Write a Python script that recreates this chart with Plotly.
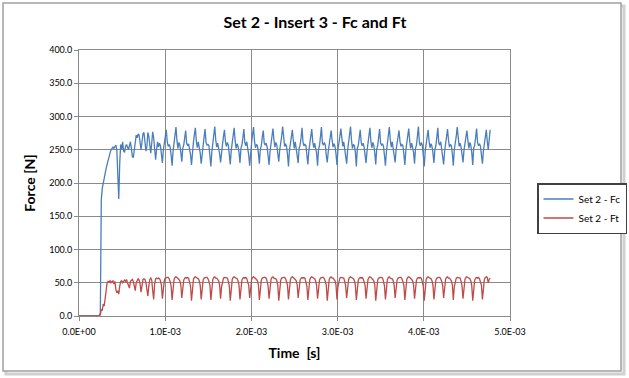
import plotly.graph_objects as go

# sampling interval of the recorded signal [s]
DT = 1.125e-5

# idle phase before contact (values are zero)
fc_idle = [0.0] * 22
ft_idle = [0.0] * 22

# entry phase
fc_entry = [5, 175, 192, 200, 212, 220, 222, 228, 235, 240,
            245, 250, 252, 254, 252, 256, 257, 250, 210, 176,
            230, 258, 250, 262, 248, 246, 255, 258, 254, 250,
            256, 262, 252, 240, 238, 250, 265, 272, 268, 274,
            272, 262, 250, 262, 274, 276, 265, 248, 255, 276,
            270, 258, 245, 260, 277, 268, 252, 235, 250, 262]
ft_entry = [2, 10, 8, 18, 15, 30, 45, 50, 52, 51,
            53, 50, 52, 53, 48, 52, 40, 35, 38, 33,
            45, 52, 53, 50, 52, 54, 52, 55, 50, 44,
            42, 52, 54, 55, 52, 42, 38, 50, 55, 56,
            54, 48, 36, 45, 55, 56, 55, 50, 40, 30,
            45, 55, 57, 54, 38, 25, 48, 56, 57, 56]

# steady-state segmented-chip cycles (one row per cycle)
fc_cycles = [
    [254, 260, 256, 244, 230, 250, 258, 270, 280, 262],
    [255, 258, 254, 242, 226, 248, 260, 272, 284, 264],
    [252, 261, 257, 246, 232, 252, 257, 268, 279, 260],
    [256, 259, 253, 243, 227, 249, 261, 273, 283, 263],
    [253, 262, 255, 245, 229, 251, 256, 269, 281, 261],
    [257, 258, 256, 241, 225, 247, 259, 271, 285, 265],
    [254, 260, 254, 244, 231, 250, 258, 270, 280, 262],
    [255, 261, 257, 243, 228, 249, 260, 272, 283, 264],
    [252, 259, 255, 246, 230, 252, 257, 268, 281, 261],
    [256, 262, 253, 242, 226, 248, 261, 273, 284, 263],
    [253, 258, 256, 245, 229, 251, 256, 269, 279, 260],
    [257, 260, 254, 241, 227, 247, 259, 271, 282, 265],
    [254, 261, 257, 244, 232, 250, 258, 270, 285, 262],
    [255, 259, 255, 243, 225, 249, 260, 272, 280, 264],
    [252, 262, 253, 246, 230, 252, 257, 268, 283, 261],
    [256, 258, 256, 242, 228, 248, 261, 273, 281, 263],
    [253, 260, 254, 245, 226, 251, 256, 269, 284, 260],
    [257, 261, 257, 241, 231, 247, 259, 271, 279, 265],
    [254, 259, 255, 244, 227, 250, 258, 270, 282, 262],
    [255, 262, 253, 243, 229, 249, 260, 272, 285, 264],
    [252, 258, 256, 246, 225, 252, 257, 268, 280, 261],
    [256, 260, 254, 242, 230, 248, 261, 273, 283, 263],
    [253, 261, 257, 245, 228, 251, 256, 269, 281, 260],
    [257, 259, 255, 241, 226, 247, 259, 271, 284, 265],
    [254, 262, 253, 244, 231, 250, 258, 270, 279, 262],
    [255, 258, 256, 243, 227, 249, 260, 272, 282, 264],
    [252, 260, 254, 246, 229, 252, 257, 268, 285, 261],
    [256, 261, 257, 242, 225, 248, 261, 273, 280, 263],
    [253, 259, 255, 245, 230, 251, 256, 269, 283, 260],
    [257, 262, 253, 241, 228, 247, 259, 271, 281, 265],
    [254, 258, 256, 244, 226, 250, 258, 270, 284, 262],
    [255, 260, 254, 243, 231, 249, 260, 272, 279, 264],
    [252, 261, 257, 246, 227, 252, 257, 268, 282, 261],
    [256, 259, 255, 242, 229, 248, 261, 273, 280, 263],
]
ft_cycles = [
    [57, 56, 53, 46, 26, 44, 54, 57, 58, 58],
    [58, 56, 52, 45, 24, 43, 55, 58, 59, 58],
    [57, 55, 53, 47, 27, 45, 54, 57, 58, 57],
    [58, 57, 52, 45, 23, 44, 55, 58, 59, 58],
    [57, 56, 53, 46, 25, 43, 54, 57, 58, 58],
    [58, 56, 52, 46, 24, 45, 55, 58, 59, 57],
    [57, 55, 53, 47, 26, 44, 54, 57, 58, 58],
    [58, 57, 52, 45, 23, 43, 55, 58, 59, 58],
    [57, 56, 53, 46, 25, 45, 54, 57, 58, 57],
    [58, 56, 52, 46, 27, 44, 55, 58, 59, 58],
    [57, 55, 53, 47, 24, 43, 54, 57, 58, 58],
    [58, 57, 52, 45, 26, 45, 55, 58, 59, 57],
    [57, 56, 53, 46, 23, 44, 54, 57, 58, 58],
    [58, 56, 52, 46, 25, 43, 55, 58, 59, 58],
    [57, 55, 53, 47, 27, 45, 54, 57, 58, 57],
    [58, 57, 52, 45, 24, 44, 55, 58, 59, 58],
    [57, 56, 53, 46, 26, 43, 54, 57, 58, 58],
    [58, 56, 52, 46, 23, 45, 55, 58, 59, 57],
    [57, 55, 53, 47, 25, 44, 54, 57, 58, 58],
    [58, 57, 52, 45, 27, 43, 55, 58, 59, 58],
    [57, 56, 53, 46, 24, 45, 54, 57, 58, 57],
    [58, 56, 52, 46, 26, 44, 55, 58, 59, 58],
    [57, 55, 53, 47, 23, 43, 54, 57, 58, 58],
    [58, 57, 52, 45, 25, 45, 55, 58, 59, 57],
    [57, 56, 53, 46, 27, 44, 54, 57, 58, 58],
    [58, 56, 52, 46, 24, 43, 55, 58, 59, 58],
    [57, 55, 53, 47, 26, 45, 54, 57, 58, 57],
    [58, 57, 52, 45, 23, 44, 55, 58, 59, 58],
    [57, 56, 53, 46, 25, 43, 54, 57, 58, 58],
    [58, 56, 52, 46, 27, 45, 55, 58, 59, 57],
    [57, 55, 53, 47, 24, 44, 54, 57, 58, 58],
    [58, 57, 52, 45, 26, 43, 55, 58, 59, 58],
    [57, 56, 53, 46, 23, 45, 54, 57, 58, 57],
    [58, 56, 52, 46, 25, 44, 55, 58, 59, 58],
]
fc_tail = [250, 265, 280]
ft_tail = [50, 55, 57]

x_tickvals = [0.0, 0.001, 0.002, 0.003, 0.004, 0.005]
x_ticktext = ["0.0E+00", "1.0E-03", "2.0E-03", "3.0E-03", "4.0E-03", "5.0E-03"]

fc = fc_idle + fc_entry + [v for row in fc_cycles for v in row] + fc_tail
ft = ft_idle + ft_entry + [v for row in ft_cycles for v in row] + ft_tail
t = [i * DT for i in range(len(fc))]

FONT = "Lato"
GRID = "#8a8a8a"

fig = go.Figure()
fig.add_trace(go.Scatter(x=t, y=fc, mode="lines", name="Set 2 - Fc",
                         line=dict(color="#4A7EBB", width=1.3)))
fig.add_trace(go.Scatter(x=t, y=ft, mode="lines", name="Set 2 - Ft",
                         line=dict(color="#BE4B48", width=1.3)))

W, H = 629, 378
L, R, T, B = 79, 510, 50, 316
pw, ph = R - L, B - T

def px(x):
    return (x - L) / pw

def py(y):
    return (B - y) / ph

# outer chart border with soft shadow
fig.add_shape(type="rect", xref="paper", yref="paper",
              x0=px(6), x1=px(624), y0=py(374), y1=py(6),
              line=dict(color="#d0d0d0", width=3), layer="below")
fig.add_shape(type="rect", xref="paper", yref="paper",
              x0=px(3), x1=px(621), y0=py(371), y1=py(3),
              line=dict(color="#a0a0a0", width=1.5), fillcolor="white", layer="below")

fig.update_layout(
    width=W, height=H,
    margin=dict(l=L, r=W - R, t=T, b=H - B, autoexpand=False),
    paper_bgcolor="white", plot_bgcolor="white",
    title=dict(text="<b>Set 2 - Insert 3 - Fc and Ft</b>", x=315 / W,
               xanchor="center", y=1 - 22 / H, yanchor="middle",
               font=dict(family=FONT, size=16, color="#000")),
    font=dict(family=FONT, color="#000"),
    showlegend=True,
    legend=dict(x=px(537), y=py(183), xanchor="left", yanchor="top",
                bordercolor="#404040", borderwidth=1.5, bgcolor="white",
                font=dict(family=FONT, size=10, color="#000"),
                tracegroupgap=0, itemwidth=30),
)
fig.update_xaxes(range=[0, 0.005], tickvals=x_tickvals, ticktext=x_ticktext,
                 showgrid=True, gridcolor=GRID, gridwidth=1,
                 showline=True, linecolor=GRID, linewidth=1, mirror=True,
                 ticks="outside", ticklen=4, tickcolor=GRID, zeroline=False,
                 ticklabelstandoff=3,
                 tickfont=dict(family=FONT, size=9, color="#000"),
                 title=dict(text="<b>Time  [s]</b>", font=dict(family=FONT, size=14), standoff=12))
fig.update_yaxes(range=[0, 400], dtick=50, tickformat=".1f",
                 showgrid=True, gridcolor=GRID, gridwidth=1,
                 showline=True, linecolor=GRID, linewidth=1, mirror=True,
                 ticks="outside", ticklen=4, tickcolor=GRID, zeroline=False,
                 tickfont=dict(family=FONT, size=9, color="#000"),
                 title=dict(text="<b>Force [N]</b>", font=dict(family=FONT, size=14), standoff=10))

fig.write_html("out.html", config={"displayModeBar": False},
               post_script="document.body.style.margin='0';document.body.style.padding='0';")
